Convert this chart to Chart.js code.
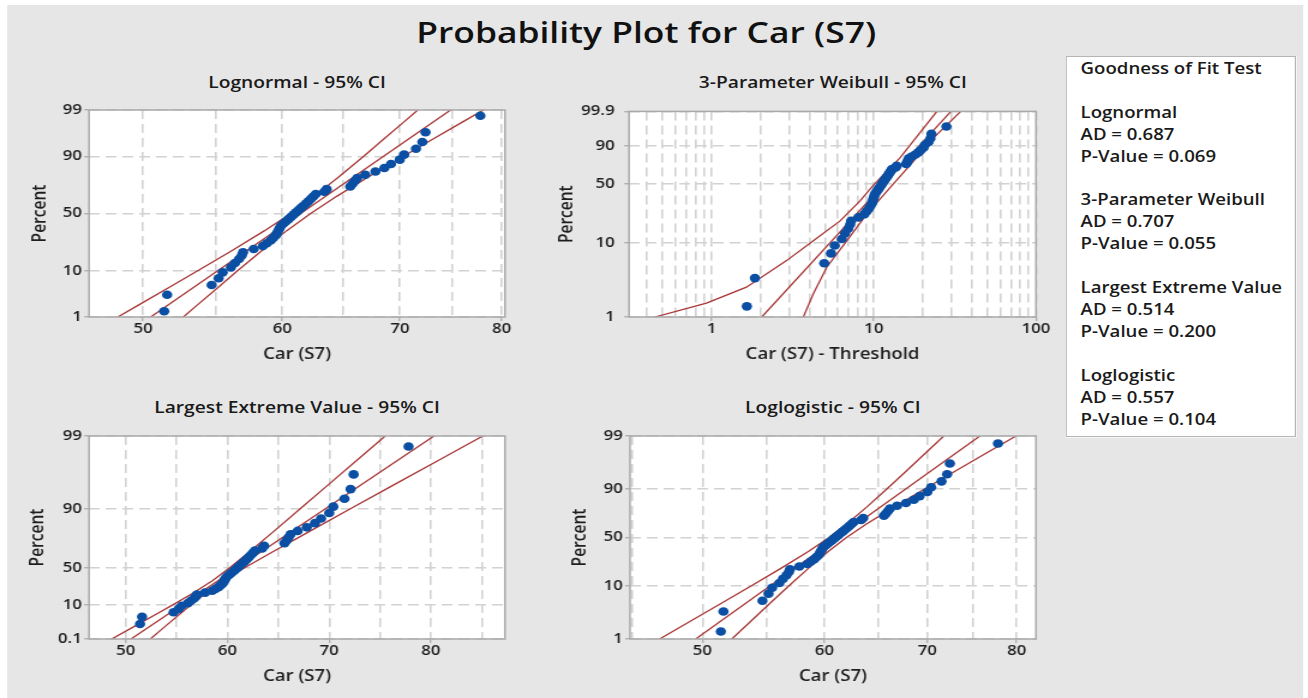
<!DOCTYPE html>
<html><head><meta charset="utf-8">
<script src="https://cdn.jsdelivr.net/npm/chart.js@4.4.1/dist/chart.umd.min.js"></script>
<style>
html,body{margin:0;padding:0;background:#fff;overflow:hidden;width:1308px;height:698px;}
#stage{position:absolute;left:0;top:0;width:1090px;height:698px;transform:scaleX(1.2);transform-origin:0 0;font-family:'Open Sans',sans-serif;}
#panel{position:absolute;left:6px;top:5px;width:1080px;height:693px;background:#e6e6e6;}
.t{position:absolute;white-space:nowrap;color:#1a1a1a;font-weight:600;}
canvas{position:absolute;}
#legend{position:absolute;left:888px;top:56px;width:192px;height:381px;background:#fff;border:1px solid #b5b5b5;box-sizing:border-box;}
</style></head>
<body>
<div id="stage">
  <div id="panel"></div>
  <div class="t" style="left:0;width:1077px;text-align:center;top:16.5px;font-size:29.5px;line-height:30px;color:#111;">Probability Plot for Car (S7)</div>
  <div class="t" style="left:47.5px;width:400px;text-align:center;top:74px;font-size:16px;line-height:16px;">Lognormal - 95% CI</div>
  <div class="t" style="left:494px;width:400px;text-align:center;top:74px;font-size:16px;line-height:16px;">3-Parameter Weibull - 95% CI</div>
  <div class="t" style="left:47.5px;width:400px;text-align:center;top:398.5px;font-size:16px;line-height:16px;">Largest Extreme Value - 95% CI</div>
  <div class="t" style="left:494px;width:400px;text-align:center;top:398.5px;font-size:16px;line-height:16px;">Loglogistic - 95% CI</div>
  <canvas id="c1" width="440" height="275" style="left:0px;top:95px;"></canvas>
  <canvas id="c2" width="440" height="275" style="left:450px;top:95px;"></canvas>
  <canvas id="c3" width="440" height="278" style="left:0px;top:420px;"></canvas>
  <canvas id="c4" width="440" height="278" style="left:450px;top:420px;"></canvas>
  <div id="legend"></div>
  <div class="t" id="gof" style="left:900.5px;top:58px;font-size:15.5px;line-height:21.9px;"></div>
</div>
<script>
// ---------------- data ----------------
const carS7 = [51.4, 51.6, 54.7, 55.2, 55.5, 56.1, 56.4, 56.7, 56.9, 57.0,
  57.8, 58.5, 58.8, 59.1, 59.3, 59.5, 59.6, 59.7, 59.8, 59.9,
  60.1, 60.3, 60.5, 60.7, 60.9, 61.1, 61.3, 61.5, 61.7, 61.9,
  62.1, 62.3, 62.5, 62.7, 63.4, 63.6, 65.6, 65.8, 66.0, 66.2,
  66.9, 67.8, 68.6, 69.2, 70.0, 70.4, 71.5, 72.1, 72.4, 77.8];
const percentRank = [1.4, 3.4, 5.4, 7.3, 9.3, 11.3, 13.3, 15.3, 17.3, 19.2,
  21.2, 23.2, 25.2, 27.2, 29.2, 31.2, 33.1, 35.1, 37.1, 39.1,
  41.1, 43.1, 45.0, 47.0, 49.0, 51.0, 53.0, 55.0, 56.9, 58.9,
  60.9, 62.9, 64.9, 66.9, 68.8, 70.8, 72.8, 74.8, 76.8, 78.8,
  80.8, 82.7, 84.7, 86.7, 88.7, 90.7, 92.7, 94.6, 96.6, 98.6];
const weibullThreshold = 49.75;

// Lognormal
const lnFitX = [50.5, 74.82];
const lnFitP = [1, 99];
const lnBandP = [1, 2, 5, 10, 20, 35, 50, 65, 80, 90, 95, 98, 99];
const lnUpperX = [48.37, 49.72, 51.81, 53.74, 56.13, 58.63, 60.68, 62.58, 64.71, 66.74, 68.42, 70.36, 71.67];
const lnLowerX = [52.71, 53.69, 55.22, 56.61, 58.39, 60.36, 62.28, 64.44, 67.31, 70.30, 72.91, 75.98, 78.11];
const lnTicksP = [1, 10, 50, 90, 99];
const lnGridX = [50, 55, 60, 65, 70, 75, 80];
const lnLabelX = [50, 60, 70, 80];

// 3-parameter Weibull
const wbFitX = [2.04, 29.9];
const wbFitP = [1, 99.9];
const wbUpperX = [0.447, 0.93, 1.64, 2.9, 4.24, 6.2, 8.23, 9.95, 14.5, 24.5];
const wbUpperP = [1, 1.55, 2.56, 5.85, 10.7, 19.2, 33.1, 48.6, 79.4, 99.9];
const wbLowerX = [3.68, 4.24, 5.13, 6.81, 9.05, 12.6, 17.6, 23.35, 34.4];
const wbLowerP = [1, 2.08, 4.77, 10.7, 23.2, 45.8, 75.9, 94.9, 99.9];
const wbTicksP = [1, 10, 50, 90, 99.9];
const wbGridX = [0.4, 0.5, 0.6, 0.7, 0.8, 0.9, 1, 2, 3, 4, 5, 6, 7, 8, 9, 10, 20, 30, 40, 50, 60, 70, 80, 90, 100];
const wbLabelX = [1, 10, 100];

// Largest extreme value
const levFitX = [50.51, 80.30];
const levFitP = [0.1, 99];
const levBandP = [0.1, 1, 5, 10, 20, 35, 50, 65, 80, 90, 95, 98, 99];
const levUpperX = [48.61, 50.85, 53.20, 54.62, 56.50, 58.55, 60.25, 62.04, 64.43, 67.12, 69.69, 73.01, 75.50];
const levLowerX = [52.41, 53.87, 55.44, 56.42, 57.80, 59.65, 61.73, 64.28, 67.89, 72.04, 76.03, 81.21, 85.10];
const levTicksP = [0.1, 10, 50, 90, 99];
const levGridX = [50, 55, 60, 65, 70, 75, 80, 85];
const levLabelX = [50, 60, 70, 80];

// Loglogistic
const llFitX = [49.50, 75.72];
const llFitP = [1, 99];
const llBandP = [1, 2, 5, 10, 20, 35, 50, 65, 80, 90, 95, 98, 99];
const llUpperX = [46.90, 48.82, 51.54, 53.77, 56.26, 58.62, 60.43, 62.07, 63.95, 65.88, 67.67, 69.98, 71.74];
const llLowerX = [52.25, 53.56, 55.39, 56.89, 58.61, 60.38, 62.02, 63.94, 66.63, 69.71, 72.72, 76.77, 79.92];
const llTicksP = [1, 10, 50, 90, 99];
const llGridX = [45, 50, 55, 60, 65, 70, 75, 80];
const llLabelX = [50, 60, 70, 80];

// Goodness of fit
const gofNames = ['Lognormal', '3-Parameter Weibull', 'Largest Extreme Value', 'Loglogistic'];
const gofAD = ['0.687', '0.707', '0.514', '0.557'];
const gofP = ['0.069', '0.055', '0.200', '0.104'];

// ---------------- probability scales ----------------
function normInv(p){
  const a=[-3.969683028665376e+01,2.209460984245205e+02,-2.759285104469687e+02,1.383577518672690e+02,-3.066479806614716e+01,2.506628277459239e+00];
  const b=[-5.447609879822406e+01,1.615858368580409e+02,-1.556989798598866e+02,6.680131188771972e+01,-1.328068155288572e+01];
  const c=[-7.784894002430293e-03,-3.223964580411365e-01,-2.400758277161838e+00,-2.549732539343734e+00,4.374664141464968e+00,2.938163982698783e+00];
  const d=[7.784695709041462e-03,3.224671290700398e-01,2.445134137142996e+00,3.754408661907416e+00];
  const pl=0.02425, ph=1-pl; let q,r;
  if(p<pl){q=Math.sqrt(-2*Math.log(p));return (((((c[0]*q+c[1])*q+c[2])*q+c[3])*q+c[4])*q+c[5])/((((d[0]*q+d[1])*q+d[2])*q+d[3])*q+1);}
  if(p<=ph){q=p-0.5;r=q*q;return (((((a[0]*r+a[1])*r+a[2])*r+a[3])*r+a[4])*r+a[5])*q/(((((b[0]*r+b[1])*r+b[2])*r+b[3])*r+b[4])*r+1);}
  q=Math.sqrt(-2*Math.log(1-p));return -(((((c[0]*q+c[1])*q+c[2])*q+c[3])*q+c[4])*q+c[5])/((((d[0]*q+d[1])*q+d[2])*q+d[3])*q+1);
}
const probTransforms = {
  probNormal: p => normInv(p),
  probWeibull: p => Math.log(-Math.log(1 - p)),
  probLEV: p => -Math.log(-Math.log(p)),
  probLogistic: p => Math.log(p / (1 - p))
};
Object.keys(probTransforms).forEach(id => {
  const f = probTransforms[id];
  class ProbScale extends Chart.LinearScale {
    determineDataLimits() { this.min = this.options.min; this.max = this.options.max; }
    buildTicks() { return []; }
    configure() { super.configure(); this._t0 = f(this.min / 100); this._t1 = f(this.max / 100); }
    getPixelForValue(v) { return this.getPixelForDecimal((f(v / 100) - this._t0) / (this._t1 - this._t0)); }
    getValueForPixel(px) { return this.min; }
  }
  ProbScale.id = id;
  ProbScale.defaults = {};
  Chart.register(ProbScale);
});

// ---------------- helpers ----------------
const RED = '#a83636', BLUE = '#0a4fa3', GRID = '#d2d2d2', TXT = '#1e1e1e';
const FONT = "'Open Sans', sans-serif";
function pts(xs, ps) { return xs.map((x, i) => ({x: x, y: ps[i]})); }
function lineDs(data) {
  return {data: data, showLine: true, borderColor: RED, borderWidth: 1.3, pointRadius: 0, fill: false, order: 2};
}
function pointDs(data) {
  return {data: data, showLine: false, pointRadius: 4.3, pointBackgroundColor: BLUE, pointBorderWidth: 0, pointBorderColor: BLUE, order: 1};
}
const framePlugin = {
  id: 'frame',
  beforeDraw(chart) {
    const {ctx, chartArea: a} = chart;
    ctx.save(); ctx.fillStyle = '#ffffff'; ctx.fillRect(a.left, a.top, a.right - a.left, a.bottom - a.top); ctx.restore();
  },
  afterDraw(chart) {
    const {ctx, chartArea: a} = chart;
    ctx.save(); ctx.strokeStyle = '#a9a9a9'; ctx.lineWidth = 1.5;
    ctx.strokeRect(a.left, a.top, a.right - a.left, a.bottom - a.top); ctx.restore();
  }
};
function makeChart(canvasId, cfg) {
  const xScale = {
    type: cfg.xType, min: cfg.xMin, max: cfg.xMax, bounds: 'data',
    afterBuildTicks: s => { s.ticks = cfg.xGrid.map(v => ({value: v})); },
    afterFit: s => { s.height = cfg.xHeight; },
    ticks: {autoSkip: false, maxRotation: 0, padding: 0, color: TXT, font: {family: FONT, size: 14, weight: '600'},
      callback: v => (cfg.xLabels.indexOf(v) >= 0 ? String(v) : '')},
    grid: {color: GRID, lineWidth: 1.6, tickLength: 4, tickWidth: 1, tickBorderDash: [],
      tickColor: ctx => (ctx.tick && cfg.xLabels.indexOf(ctx.tick.value) >= 0 ? '#9a9a9a' : 'rgba(0,0,0,0)')},
    border: {display: false, dash: [9, 5]},
    title: {display: true, text: cfg.xTitle, color: TXT, font: {family: FONT, size: 15.5, weight: '600'}, padding: {top: 0, bottom: cfg.xTitlePad}}
  };
  const yScale = {
    type: cfg.yType, min: cfg.yMin, max: cfg.yMax,
    afterBuildTicks: s => { s.ticks = cfg.yTicks.map(v => ({value: v})); },
    afterFit: s => { s.width = cfg.yWidth; },
    ticks: {autoSkip: false, padding: cfg.yTickPad, color: TXT, font: {family: FONT, size: 14, weight: '600'}, callback: v => String(v)},
    grid: {color: GRID, lineWidth: 1.6, tickLength: 4, tickWidth: 1, tickBorderDash: [], tickColor: '#9a9a9a'},
    border: {display: false, dash: [9, 5]},
    title: {display: true, text: 'Percent', color: TXT, font: {family: FONT, size: 15.5, weight: '600'}, padding: {top: cfg.yTitlePad, bottom: 0}}
  };
  return new Chart(document.getElementById(canvasId), {
    type: 'scatter',
    data: {datasets: [
      pointDs(cfg.points),
      lineDs(cfg.fit), lineDs(cfg.upper), lineDs(cfg.lower)
    ]},
    options: {
      responsive: false, animation: false, devicePixelRatio: 1, events: [],
      layout: {padding: cfg.padding},
      plugins: {legend: {display: false}, tooltip: {enabled: false}, title: {display: false}},
      scales: {x: xScale, y: yScale}
    },
    plugins: [framePlugin]
  });
}

// ---------------- charts ----------------
makeChart('c1', {
  xType: 'logarithmic', xMin: 46.58, xMax: 80.35, xGrid: lnGridX, xLabels: lnLabelX, xTitle: 'Car (S7)',
  yType: 'probNormal', yMin: 1, yMax: 99, yTicks: lnTicksP,
  xHeight: 53, xTitlePad: 6, yWidth: 74.2, yTickPad: 2, yTitlePad: 24,
  padding: {left: 0, top: 15, right: 19.2, bottom: 0},
  points: pts(carS7, percentRank), fit: pts(lnFitX, lnFitP), upper: pts(lnUpperX, lnBandP), lower: pts(lnLowerX, lnBandP)
});
makeChart('c2', {
  xType: 'logarithmic', xMin: 0.31, xMax: 100, xGrid: wbGridX, xLabels: wbLabelX, xTitle: 'Car (S7) - Threshold',
  yType: 'probWeibull', yMin: 1, yMax: 99.9, yTicks: wbTicksP,
  xHeight: 53, xTitlePad: 6, yWidth: 74.2, yTickPad: 8, yTitlePad: 13.5,
  padding: {left: 0, top: 15, right: 26.7, bottom: 0},
  points: pts(carS7.map(v => v - weibullThreshold), percentRank), fit: pts(wbFitX, wbFitP),
  upper: pts(wbUpperX, wbUpperP), lower: pts(wbLowerX, wbLowerP)
});
makeChart('c3', {
  xType: 'linear', xMin: 46.39, xMax: 87.28, xGrid: levGridX, xLabels: levLabelX, xTitle: 'Car (S7)',
  yType: 'probLEV', yMin: 0.1, yMax: 99, yTicks: levTicksP,
  xHeight: 59, xTitlePad: 12, yWidth: 74.2, yTickPad: 2, yTitlePad: 22.7,
  padding: {left: 0, top: 16, right: 19.2, bottom: 0},
  points: pts(carS7, percentRank), fit: pts(levFitX, levFitP), upper: pts(levUpperX, levBandP), lower: pts(levLowerX, levBandP)
});
makeChart('c4', {
  xType: 'logarithmic', xMin: 44.87, xMax: 82.35, xGrid: llGridX, xLabels: llLabelX, xTitle: 'Car (S7)',
  yType: 'probLogistic', yMin: 1, yMax: 99, yTicks: llTicksP,
  xHeight: 59, xTitlePad: 12, yWidth: 75, yTickPad: 2, yTitlePad: 24.3,
  padding: {left: 0, top: 16, right: 26.7, bottom: 0},
  points: pts(carS7, percentRank), fit: pts(llFitX, llFitP), upper: pts(llUpperX, llBandP), lower: pts(llLowerX, llBandP)
});

// ---------------- goodness of fit box ----------------
const gofLines = ['Goodness of Fit Test', ''];
gofNames.forEach((n, i) => {
  gofLines.push(n, 'AD = ' + gofAD[i], 'P-Value = ' + gofP[i]);
  if (i < gofNames.length - 1) gofLines.push('');
});
document.getElementById('gof').innerHTML = gofLines.map(s => s === '' ? '&nbsp;' : s).join('<br>');
</script>
</body></html>
